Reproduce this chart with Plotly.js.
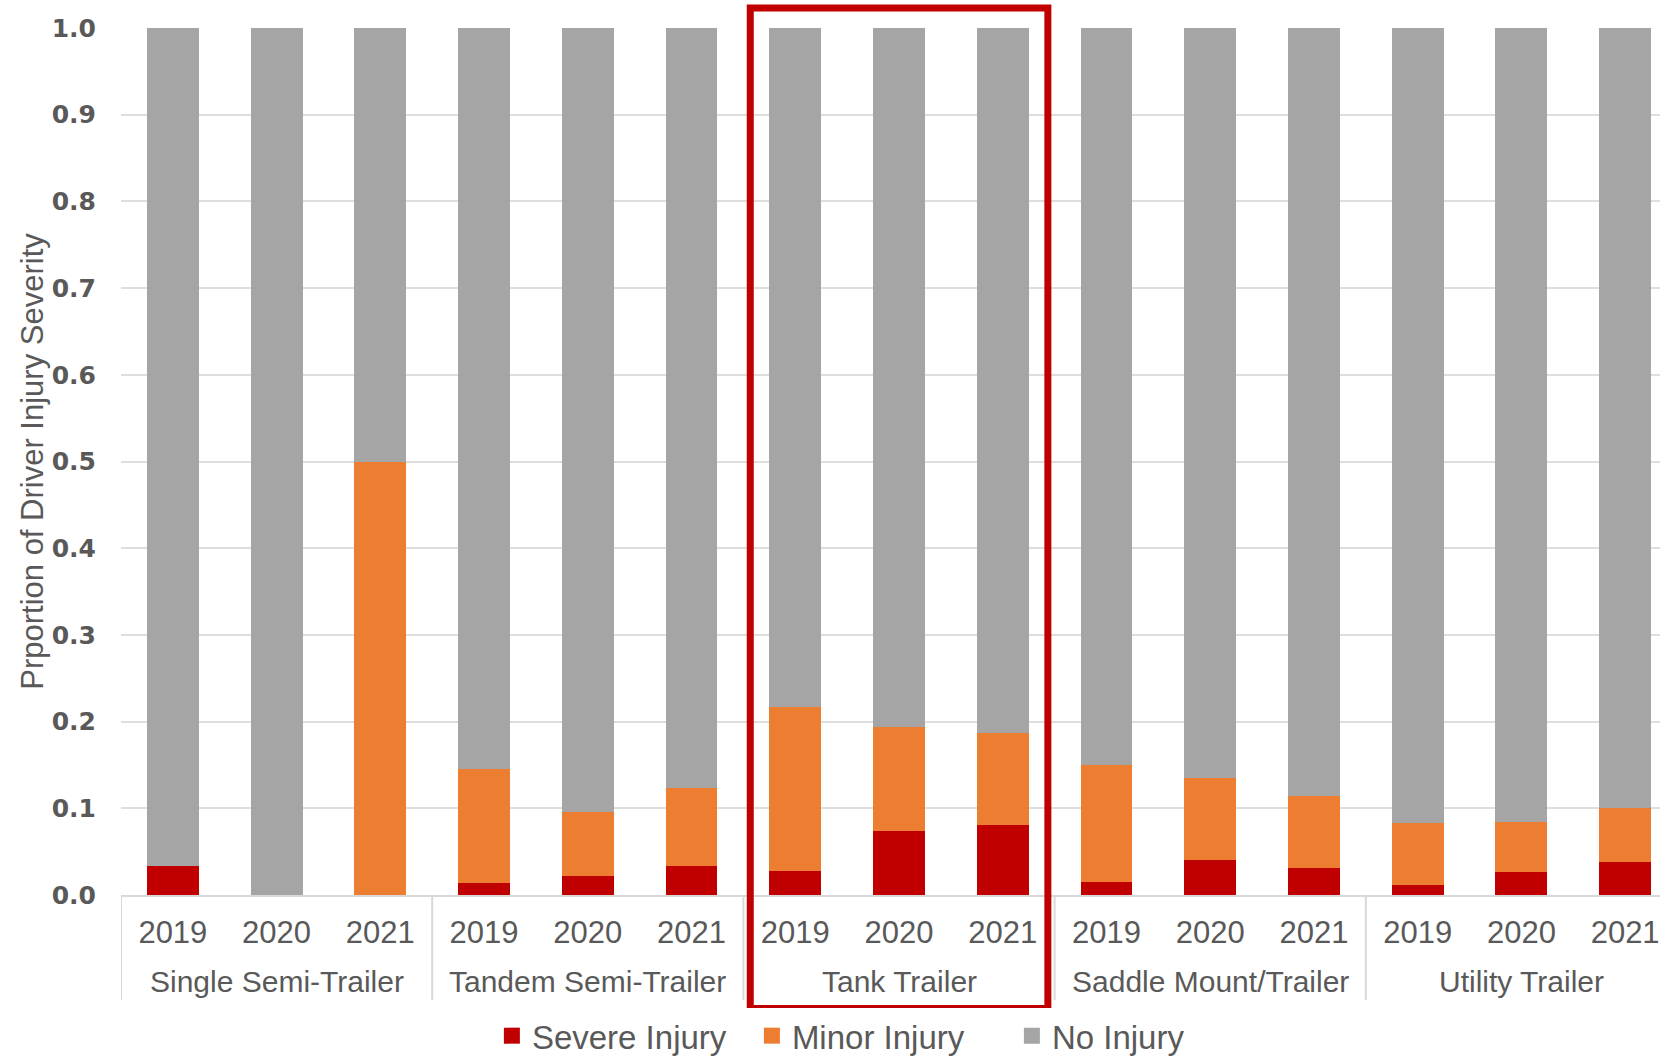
<!DOCTYPE html>
<html>
<head>
<meta charset="utf-8">
<script src="https://cdn.plot.ly/plotly-3.0.1.min.js"></script>
<style>
html, body { margin: 0; padding: 0; overflow: hidden; background: #ffffff; }
#chart { width: 1677px; height: 1059px; }
</style>
</head>
<body>
<div id="chart"></div>
<script>
// Categories
var trailerTypes = ["Single Semi-Trailer", "Tandem Semi-Trailer", "Tank Trailer", "Saddle Mount/Trailer", "Utility Trailer"];
var years = ["2019", "2020", "2021"];
var highlightedType = "Tank Trailer";

// Series
var seriesNames = ["Severe Injury", "Minor Injury", "No Injury"];
var seriesColors = ["#C00000", "#ED7D31", "#A5A5A5"];

// Series values (one per trailer type × year, in order)
var severeInjury = [0.034, 0.000, 0.000, 0.0135, 0.022, 0.033, 0.028, 0.074, 0.081, 0.015, 0.040, 0.031, 0.011, 0.026, 0.038];
var minorInjury  = [0.000, 0.000, 0.500, 0.1315, 0.074, 0.090, 0.189, 0.120, 0.106, 0.135, 0.095, 0.083, 0.072, 0.058, 0.062];
var noInjury     = [0.966, 1.000, 0.500, 0.855, 0.904, 0.877, 0.783, 0.806, 0.813, 0.850, 0.865, 0.886, 0.917, 0.916, 0.900];

// Y tick values
var yTicks = [0, 0.1, 0.2, 0.3, 0.4, 0.5, 0.6, 0.7, 0.8, 0.9, 1.0];

// Build category slots (one per trailer type × year)
var slots = [], yearLabels = [], hoverCats = [];
trailerTypes.forEach(function (t, gi) {
  years.forEach(function (y, yi) {
    slots.push(gi * years.length + yi);
    yearLabels.push(y);
    hoverCats.push(t + " " + y);
  });
});
var nSlots = slots.length;
var nYears = years.length;
var seriesValues = [severeInjury, minorInjury, noInjury];

var data = [];
// Stacked bars
seriesNames.forEach(function (name, i) {
  data.push({
    type: "bar",
    name: name,
    legendgroup: name,
    showlegend: false,
    x: slots,
    y: seriesValues[i],
    text: hoverCats,
    textposition: "none",
    marker: { color: seriesColors[i], line: { width: 0 } },
    hovertemplate: "%{text}<br>" + name + ": %{y:.3f}<extra></extra>"
  });
});
// Legend keys (square swatches, no data points)
seriesNames.forEach(function (name, i) {
  data.push({
    type: "scatter",
    mode: "markers",
    name: name,
    legendgroup: name,
    showlegend: true,
    x: [null],
    y: [null],
    marker: { symbol: "square", size: 17, color: seriesColors[i] },
    hoverinfo: "skip"
  });
});

var textColor = "#595959";
var labelFont = "Liberation Sans, Arial, sans-serif";
var dividerColor = "#d9d9d9";

// Group labels (second level of the category axis) and group dividers
var annotations = trailerTypes.map(function (t, gi) {
  return {
    xref: "x", yref: "paper",
    x: gi * nYears + (nYears - 1) / 2,
    y: -0.1003,
    yanchor: "middle",
    xanchor: "center",
    showarrow: false,
    text: t,
    font: { family: labelFont, size: 30, color: textColor }
  };
});

var shapes = [];
for (var g = 0; g <= trailerTypes.length; g++) {
  shapes.push({
    type: "line",
    xref: "x", yref: "paper",
    x0: g * nYears - 0.5, x1: g * nYears - 0.5,
    y0: 0, y1: -0.121,
    line: { color: dividerColor, width: 2 },
    layer: "below"
  });
}
// Highlight box round the highlighted trailer type
var hi = trailerTypes.indexOf(highlightedType);
shapes.push({
  type: "rect",
  xref: "x", yref: "paper",
  x0: hi * nYears - 0.5 + 0.066,
  x1: hi * nYears + nYears - 0.5 - 0.065,
  y0: -0.131,
  y1: 1.023,
  line: { color: "#C00000", width: 7 },
  fillcolor: "rgba(0,0,0,0)",
  layer: "above"
});

var layout = {
  width: 1677,
  height: 1059,
  margin: { l: 121, r: 0, t: 28, b: 164 },
  paper_bgcolor: "#ffffff",
  plot_bgcolor: "#ffffff",
  barmode: "stack",
  bargap: 0.5,
  showlegend: true,
  legend: {
    orientation: "h",
    xref: "paper",
    x: 0.489,
    xanchor: "center",
    yref: "container",
    y: 0.022,
    yanchor: "middle",
    traceorder: "normal",
    entrywidth: 215,
    entrywidthmode: "pixels",
    font: { family: labelFont, size: 33, color: textColor }
  },
  xaxis: {
    type: "linear",
    automargin: false,
    range: [-0.5, nSlots - 0.5],
    tickmode: "array",
    tickvals: slots,
    ticktext: yearLabels,
    showline: true,
    linecolor: dividerColor,
    linewidth: 2,
    showgrid: false,
    zeroline: false,
    ticks: "",
    ticklabelstandoff: 9,
    tickfont: { family: labelFont, size: 31, color: textColor },
    fixedrange: true
  },
  yaxis: {
    automargin: false,
    range: [0, 1],
    tickvals: yTicks,
    tickformat: ".1f",
    showgrid: true,
    gridcolor: "#dedede",
    gridwidth: 2,
    zeroline: false,
    showline: false,
    ticks: "",
    ticklabelstandoff: 24,
    tickfont: { family: "DejaVu Sans, sans-serif", size: 25, color: textColor, weight: "bold" },
    title: {
      text: "Prportion of Driver Injury Severity",
      font: { family: labelFont, size: 31, color: textColor }
    },
    fixedrange: true
  },
  annotations: annotations,
  shapes: shapes
};

Plotly.newPlot("chart", data, layout, { displayModeBar: false, staticPlot: true });
</script>
</body>
</html>
